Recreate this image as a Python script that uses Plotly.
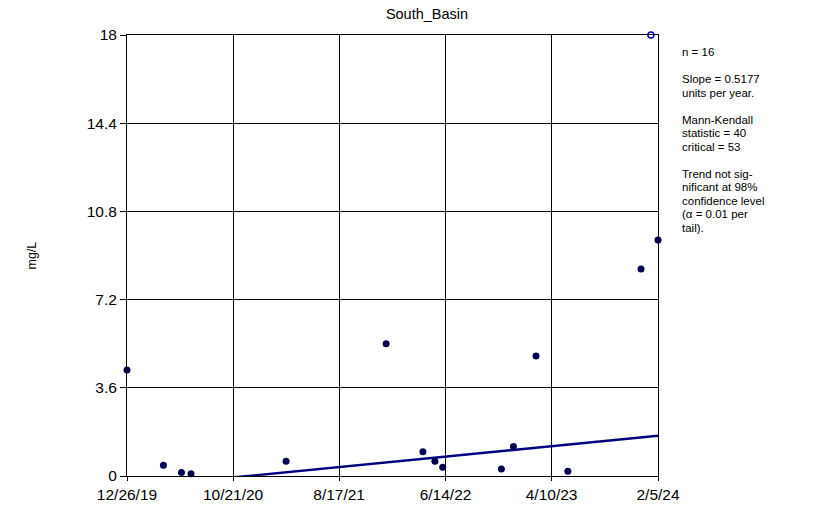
import plotly.graph_objects as go
from datetime import date

# Data
sample_dates = ["2019-12-26", "2020-04-07", "2020-05-28", "2020-06-24", "2021-03-20",
                "2021-12-28", "2022-04-11", "2022-05-15", "2022-06-06", "2022-11-19",
                "2022-12-23", "2023-02-25", "2023-05-26", "2023-12-19", "2024-02-05"]
sample_values = [4.33, 0.44, 0.14, 0.09, 0.60,
                 5.40, 0.99, 0.60, 0.36, 0.29,
                 1.20, 4.90, 0.19, 8.45, 9.63]
offscale_dates = ["2024-01-16"]
offscale_values = [18]

tick_dates = ["2019-12-26", "2020-10-21", "2021-08-17", "2022-06-14", "2023-04-10", "2024-02-05"]
tick_labels = ["12/26/19", "10/21/20", "8/17/21", "6/14/22", "4/10/23", "2/5/24"]
y_ticks = [0, 3.6, 7.2, 10.8, 14.4, 18]
y_tick_labels = ["0", "3.6", "7.2", "10.8", "14.4", "18"]

slope_per_year = 0.5177
trend_end_value = 1.645  # value of trend at 2/5/24
trend_dates = ["2019-12-26", "2024-02-05"]
d0 = date(2019, 12, 26); d1 = date(2024, 2, 5)
years_span = (d1 - d0).days / 365.25
trend_values = [trend_end_value - slope_per_year * years_span, trend_end_value]

stats_lines = ["n = 16", "", "Slope = 0.5177", "units per year.", "", "Mann-Kendall",
               "statistic = 40", "critical = 53", "", "Trend not sig-", "nificant at 98%",
               "confidence level", "(α = 0.01 per", "tail)."]

navy = "#000080"
fig = go.Figure()
fig.add_trace(go.Scatter(x=trend_dates, y=trend_values, mode="lines",
                         line=dict(color=navy, width=2.5), hoverinfo="skip"))
fig.add_trace(go.Scatter(x=sample_dates, y=sample_values, mode="markers",
                         marker=dict(color="#000050", size=7, line=dict(width=0)),
                         cliponaxis=False))
fig.add_trace(go.Scatter(x=offscale_dates, y=offscale_values, mode="markers",
                         marker=dict(color="white", size=6, line=dict(color="#0000c0", width=1.5)),
                         cliponaxis=False))

font = "Liberation Sans, Arial, sans-serif"
annotations = []
for i, line in enumerate(stats_lines):
    if not line:
        continue
    annotations.append(dict(text=line, xref="paper", yref="paper", x=1.0, y=1.0,
                            xshift=22, yshift=-17 - 13.5 * i, xanchor="left", yanchor="middle",
                            align="left", showarrow=False,
                            font=dict(size=11.5, family=font, color="black")))
annotations.append(dict(text="mg/L", xref="paper", yref="paper", x=0, y=0.5, xshift=-105,
                        textangle=-90, showarrow=False,
                        font=dict(size=12.5, family=font, color="black")))

fig.update_layout(
    width=818, height=509,
    margin=dict(l=127, r=160, t=35, b=33),
    paper_bgcolor="white", plot_bgcolor="white",
    showlegend=False,
    font=dict(family=font, color="black"),
    title=dict(text="South_Basin", x=0.522, xanchor="center", y=0.973, yanchor="middle",
               font=dict(size=14.5, family=font, color="black")),
    xaxis=dict(type="date", range=["2019-12-26", "2024-02-05"],
               tickvals=tick_dates, ticktext=tick_labels,
               showgrid=True, gridcolor="black", gridwidth=1,
               showline=True, linecolor="black", linewidth=1, mirror=True,
               ticks="outside", ticklen=4, tickcolor="black",
               tickfont=dict(size=15.5, family=font), zeroline=False, automargin=False),
    yaxis=dict(range=[0, 18], tickvals=y_ticks, ticktext=y_tick_labels,
               showgrid=True, gridcolor="black", gridwidth=1,
               showline=True, linecolor="black", linewidth=1, mirror=True,
               ticks="outside", ticklen=6, tickcolor="black",
               tickfont=dict(size=15.5, family=font), zeroline=False, automargin=False),
    annotations=annotations,
)
fig.write_html("out.html", config={"displayModeBar": False},
               post_script="document.body.style.margin='0';document.body.style.overflow='hidden';")
